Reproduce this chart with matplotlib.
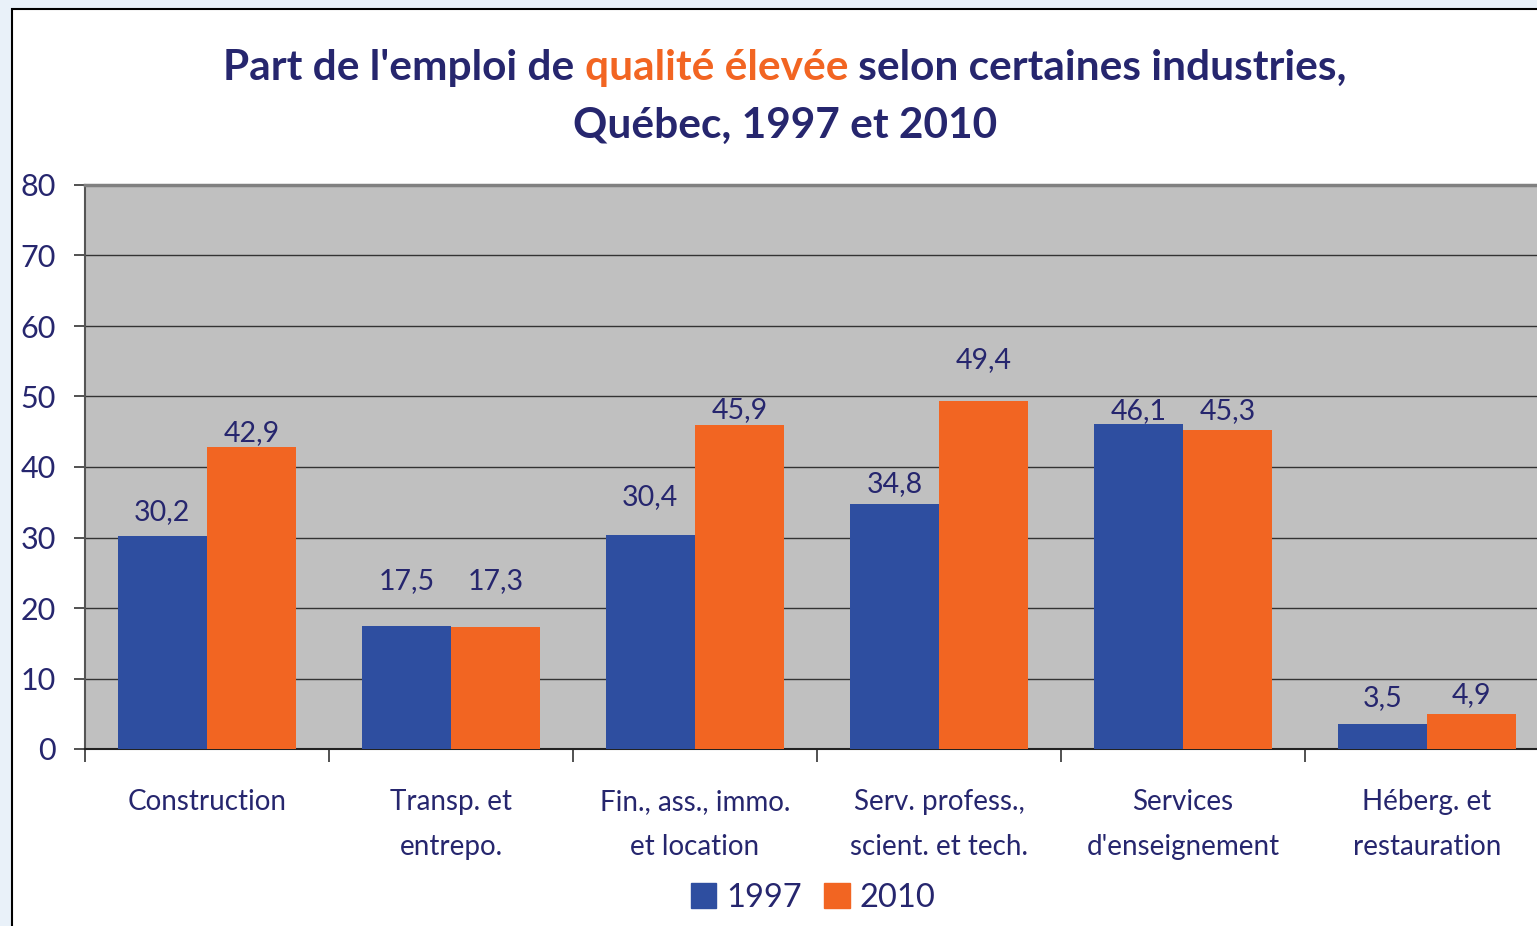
import numpy as np
import matplotlib
matplotlib.use("Agg")
import matplotlib.pyplot as plt
from matplotlib.patches import Rectangle, Patch

plt.rcParams["font.family"] = ["Lato", "DejaVu Sans"]

# --- données ---
industries = ["Construction", "Transp. et\nentrepo.", "Fin., ass., immo.\net location",
              "Serv. profess.,\nscient. et tech.", "Services\nd'enseignement",
              "Héberg. et\nrestauration"]
val_1997 = [30.2, 17.5, 30.4, 34.8, 46.1, 3.5]
val_2010 = [42.9, 17.3, 45.9, 49.4, 45.3, 4.9]
years = ["1997", "2010"]
yticks = list(range(0, 81, 10))

# décalage des étiquettes au-dessus des barres (px), comme dans l'original
lift_1997 = [24, 45, 38, 20, 13, 26]
lift_2010 = [14, 46, 15, 41, 19, 19]

BLUE = "#2E4EA0"
ORANGE = "#F26522"
NAVY = "#26266E"
BG = "#C0C0C0"

W, H = 1537, 926
fig = plt.figure(figsize=(W / 100, H / 100), dpi=100)
fig.patch.set_facecolor("#E9F1F9")
fig.patches.append(Rectangle((12 / W, -0.05), 1.1, 1 - 9 / H + 0.05,
                             transform=fig.transFigure, facecolor="white",
                             edgecolor="black", linewidth=1.5, zorder=-10))

ax = fig.add_axes([85 / W, 1 - 749 / H, 1464 / W, (749 - 185) / H])
ax.set_facecolor(BG)

x = np.arange(len(industries))
bw = 0.366
b1 = ax.bar(x - 0.183, val_1997, bw, color=BLUE, zorder=3)
b2 = ax.bar(x + 0.183, val_2010, bw, color=ORANGE, zorder=3)

for bars, vals, lifts in [(b1, val_1997, lift_1997), (b2, val_2010, lift_2010)]:
    for b, v, l in zip(bars, vals, lifts):
        ax.annotate(f"{v:.1f}".replace(".", ","),
                    (b.get_x() + b.get_width() / 2, v),
                    xytext=(0, l * 0.72), textcoords="offset points",
                    ha="center", va="center", fontsize=20.5, color=NAVY, zorder=4)

ax.set_xlim(-0.5, len(industries) - 0.5)
ax.set_ylim(0, 80)
ax.set_yticks(yticks)
ax.tick_params(axis="y", labelsize=22, labelcolor=NAVY, length=8, width=1.2,
               pad=13, color="#333333")
ax.yaxis.grid(True, color="#333333", linewidth=1.0, zorder=1)
ax.set_axisbelow(True)

ax.set_xticks(np.arange(-0.5, len(industries)), labels=[])
ax.tick_params(axis="x", which="major", length=9, width=1.2, color="#333333")
ax.set_xticks(x, labels=industries, minor=True)
ax.tick_params(axis="x", which="minor", length=0, pad=29, labelsize=20,
               labelcolor=NAVY)
for lab in ax.get_xticklabels(minor=True):
    lab.set_linespacing(1.9)
    lab.set_verticalalignment("top")

ax.spines["top"].set_color("#808080")
ax.spines["top"].set_linewidth(2.5)
ax.spines["left"].set_color("#555555")
ax.spines["left"].set_linewidth(1.5)
ax.spines["bottom"].set_color("#222222")
ax.spines["bottom"].set_linewidth(1.5)
ax.spines["right"].set_visible(False)

# --- titre en deux couleurs ---
fig.canvas.draw()
r = fig.canvas.get_renderer()
parts = [("Part de l'emploi de ", NAVY), ("qualité élevée", ORANGE),
         (" selon certaines industries,", NAVY)]
texts = [fig.text(0, 1 - 68 / H, s, color=c, fontsize=30.5, fontweight="bold",
                  va="center", ha="left") for s, c in parts]
widths = [t.get_window_extent(r).width for t in texts]
xpos = 785 - sum(widths) / 2
for t, w in zip(texts, widths):
    t.set_x(xpos / W)
    xpos += w
fig.text(785 / W, 1 - 126 / H, "Québec, 1997 et 2010", color=NAVY, fontsize=30.5,
         fontweight="bold", ha="center", va="center")

handles = [Patch(color=BLUE), Patch(color=ORANGE)]
fig.legend(handles, years, loc="center", bbox_to_anchor=(813 / W, 1 - 898 / H),
           ncol=2, frameon=False, fontsize=23.5, handlelength=0.78,
           handleheight=0.78, handletextpad=0.3, columnspacing=0.7,
           labelcolor=NAVY)

fig.savefig("out.png", dpi=100, facecolor=fig.get_facecolor())
